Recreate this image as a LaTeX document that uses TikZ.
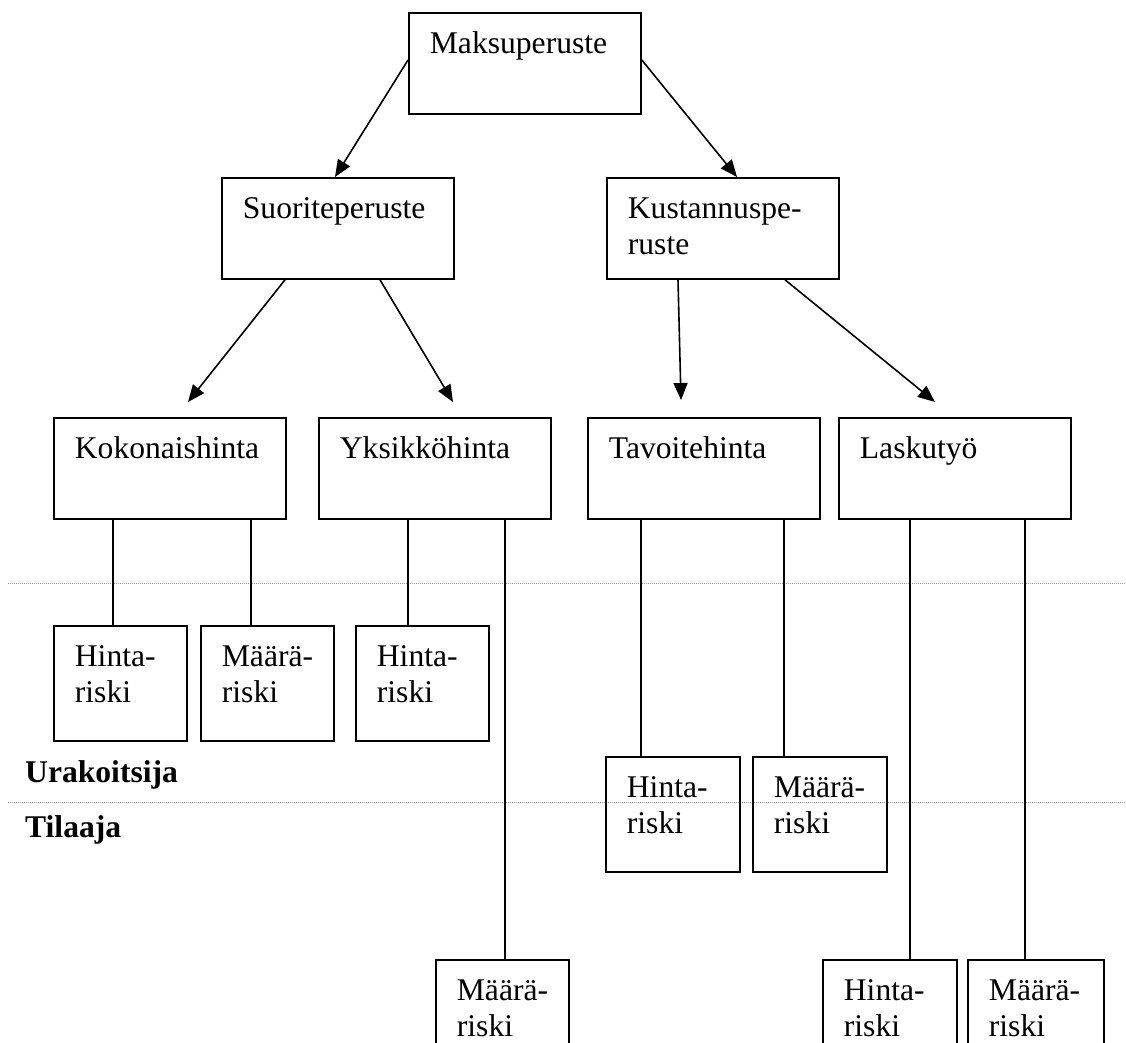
\documentclass[tikz,border=0pt]{standalone}
\usepackage{fontspec}
\setmainfont{Liberation Serif}
\usetikzlibrary{arrows.meta,calc}
% keep each two-line label on its own two lines
\exhyphenpenalty=10000
\hbadness=10000
\hfuzz=2pt

\begin{document}
\begin{tikzpicture}[x=1pt,y=-1pt,
  box/.style n args={2}{draw, line width=1.8pt, anchor=north west,
    inner xsep=21pt, inner ysep=0pt, align=left,
    text width=#1-42pt, text height=41pt, text depth=#2-41pt,
    font=\fontsize{31.6}{36}\selectfont},
  bigbox/.style={box={232pt}{101pt}},
  riskbox/.style={box={#1}{115pt}},
  riskbox/.default={133pt},
  arr/.style={line width=1.6pt, -{Triangle[length=17pt,width=14pt]}},
  link/.style={line width=1.6pt},
  divider/.style={line width=1pt, draw={rgb,255:red,150;green,150;blue,150},
    dash pattern=on 1.2pt off 0.8pt},
  side/.style={anchor=base west, inner sep=0pt,
    font=\fontsize{31.6}{36}\selectfont\bfseries}]

\clip (0,0) rectangle (1126,1043);

% boundaries between the parties
\coordinate (d1l) at (8,583);
\coordinate (d1r) at (1126,583);
\coordinate (d2l) at (8,802);
\coordinate (d2r) at (1126,802);
\draw[divider] (d1l) -- (d1r);
\draw[divider] (d2l) -- (d2r);

\node[side] (urak) at (25,782) {Urakoitsija};
\node[side] (tila) at (25,837) {Tilaaja};

% payment basis tree
\node[bigbox] (mak) at (408,12)  {Maksuperuste};
\node[bigbox] (suo) at (221,177) {Suoriteperuste};
\node[bigbox] (kus) at (606,177) {Kustannuspe-\\ruste};

\node[bigbox] (kok) at (53,417)  {Kokonaishinta};
\node[bigbox] (yks) at (318,417) {Yksikköhinta};
\node[bigbox] (tav) at (587,417) {Tavoitehinta};
\node[bigbox] (las) at (838,417) {Laskutyö};

% risks
\node[riskbox] (h1) at (53,625)  {Hinta-\\riski};
\node[riskbox] (m1) at (200,625) {Määrä-\\riski};
\node[riskbox] (h2) at (355,625) {Hinta-\\riski};
\node[riskbox={134pt}] (h3) at (605,756) {Hinta-\\riski};
\node[riskbox={134pt}] (m3) at (752,756) {Määrä-\\riski};
\node[riskbox] (m2) at (435,959) {Määrä-\\riski};
\node[riskbox={134pt}] (h4) at (822,959) {Hinta-\\riski};
\node[riskbox={136pt}] (m4) at (967,959) {Määrä-\\riski};

% arrows between the levels
\draw[arr] ($(mak.north west)+(0,48)$) -- ($(suo.north west)+(114,0)$);
\draw[arr] ($(mak.north east)+(0,48)$) -- ($(kus.north west)+(131,0)$);
\draw[arr] ($(suo.south west)+(64,0)$)  -- ($(kok.north west)+(135,-15)$);
\draw[arr] ($(suo.south west)+(159,0)$) -- ($(yks.north west)+(135,-15)$);
\draw[arr] ($(kus.south west)+(72,0)$)  -- ($(tav.north west)+(94,-17)$);
\draw[arr] ($(kus.south west)+(179,0)$) -- ($(las.north west)+(97,-15)$);

% vertical links to the risks
\coordinate (x1) at (113,0);
\coordinate (x2) at (251,0);
\coordinate (x3) at (408,0);
\coordinate (x4) at (505,0);
\coordinate (x5) at (641,0);
\coordinate (x6) at (784,0);
\coordinate (x7) at (910,0);
\coordinate (x8) at (1025,0);
\draw[link] (kok.south -| x1) -- (h1.north -| x1);
\draw[link] (kok.south -| x2) -- (m1.north -| x2);
\draw[link] (yks.south -| x3) -- (h2.north -| x3);
\draw[link] (yks.south -| x4) -- (m2.north -| x4);
\draw[link] (tav.south -| x5) -- (h3.north -| x5);
\draw[link] (tav.south -| x6) -- (m3.north -| x6);
\draw[link] (las.south -| x7) -- (h4.north -| x7);
\draw[link] (las.south -| x8) -- (m4.north -| x8);

\end{tikzpicture}
\end{document}
